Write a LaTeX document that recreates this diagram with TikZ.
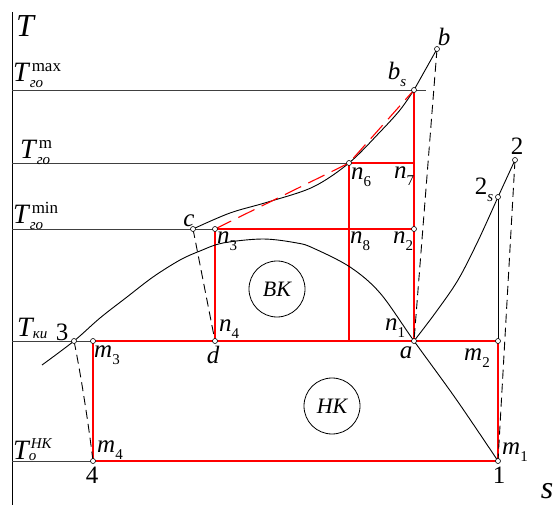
\documentclass[tikz,border=0pt]{standalone}
\usepackage{fontspec}
\setmainfont{Liberation Serif}
\newcommand{\Ls}[2]{{\itshape #1}\raisebox{-7pt}{\fontsize{15}{15}\selectfont #2}}
\newcommand{\Lsi}[2]{{\itshape #1}\raisebox{-7pt}{\fontsize{15}{15}\selectfont\itshape #2}}
\newcommand{\Ns}[2]{#1\raisebox{-7pt}{\fontsize{15}{15}\selectfont\itshape #2}}
\newcommand{\TSupSub}[2]{{\itshape T}\makebox[0pt][l]{\hspace{3pt}\raisebox{10pt}{\fontsize{17}{17}\selectfont #1}}\hspace{1pt}\raisebox{-6pt}{\fontsize{15}{15}\selectfont\itshape #2}}
\begin{document}
\begin{tikzpicture}[x=1pt,y=-1pt,
  axis/.style={line width=1pt},
  tline/.style={draw=black!75,line width=0.9pt},
  redl/.style={draw=red,line width=1.3pt},
  curve/.style={line width=0.9pt},
  dsh/.style={line width=0.9pt,dash pattern=on 9pt off 5pt},
  rdsh/.style={draw=red,line width=1.1pt,dash pattern=on 18pt off 8pt},
  pt/.style={circle,draw,fill=white,inner sep=0pt,minimum size=5pt,line width=0.6pt},
  lab/.style={inner sep=0pt,font=\fontsize{25}{25}\selectfont},
  tlab/.style={inner sep=0pt,anchor=base west,font=\fontsize{28}{28}\selectfont},
  zone/.style={circle,draw,line width=0.8pt,minimum size=56pt,inner sep=0pt,font=\fontsize{22}{22}\selectfont\itshape}]
\useasboundingbox (0,0) rectangle (560,505);
% key points
\coordinate (axTop) at (12,12);
\coordinate (axBot) at (12,505);
\coordinate (Lmax) at (12,90);
\coordinate (Lm) at (12,163);
\coordinate (Lmin) at (12,229);
\coordinate (Lki) at (12,341);
\coordinate (Lo) at (12,461);
\coordinate (maxEnd) at (426,90);
\coordinate (P3) at (74,341);
\coordinate (M3) at (93,341);
\coordinate (M4) at (93,461);
\coordinate (D) at (215,341);
\coordinate (N3) at (215,229);
\coordinate (C) at (193,229);
\coordinate (N6) at (349,163);
\coordinate (N6b) at (349,341);
\coordinate (N7) at (414,163);
\coordinate (N2) at (414,229);
\coordinate (A) at (414,341);
\coordinate (BS) at (414,90);
\coordinate (B) at (437,49);
\coordinate (S2) at (498,197);
\coordinate (P2) at (515,160);
\coordinate (M2) at (498,341);
\coordinate (M1) at (498,461);
\coordinate (DomeStart) at (42,365);
% axis
\draw[axis] (axTop) -- (axBot);
% temperature levels
\draw[tline] (Lmax) -- (maxEnd);
\draw[tline] (Lm) -- (N6);
\draw[tline] (Lmin) -- (N3);
\draw[tline] (Lki) -- (M3);
\draw[tline] (Lo) -- (M4);
% red cycle lines
\draw[redl] (N6) -- (N7);
\draw[redl] (N3) -- (N2);
\draw[redl] (M3) -- (M2);
\draw[redl] (M4) -- (M1);
\draw[redl] (M3) -- (M4);
\draw[redl] (N3) -- (D);
\draw[redl] (N6) -- (N6b);
\draw[redl] (BS) -- (A);
\draw[redl] (M2) -- (M1);
% black processes
\draw[curve] (S2) -- (M2);
\draw[curve] (S2) -- (P2);
\draw[curve] (BS) -- (B);
\draw[curve] plot[smooth,tension=0.55] coordinates {(DomeStart) (P3) (100,318) (127,297) (153,277) (180,260) (200,251) (223,243) (263,239) (297,243) (313,248) (350,267) (380,293) (A) (456,399) (M1)};
\draw[curve] plot[smooth,tension=0.55] coordinates {(A) (436,312) (458,280) (478,241) (S2)};
\draw[curve] plot[smooth,tension=0.55] coordinates {(C) (230,213) (268,202) (313,187) (N6) (380,132) (400,110) (BS)};
% dashed
\draw[rdsh] (N3) -- (N6) -- (BS);
\draw[dsh] (P3) .. controls (80,370) and (88,420) .. (M4);
\draw[dsh] (C) -- (D);
\draw[dsh] (B) -- (A);
\draw[dsh] (P2) -- (M1);
% zones
\node[zone] (VK) at (277,289) {ВК};
\node[zone] (NK) at (332,406) {НК};
% markers
\foreach \p in {P3,M3,M4,D,N3,C,N6,N2,A,BS,B,S2,P2,M2,M1}
  \node[pt] at (\p) {};
% labels
\node[inner sep=0pt,font=\fontsize{32}{32}\selectfont\itshape] (lT) at (25,26) {T};
\node[inner sep=0pt,font=\fontsize{32}{32}\selectfont\itshape] (lS) at (547,491) {s};
\node[tlab] (lTmax) at (13,82) {\TSupSub{max}{го}};
\node[tlab] (lTm) at (20,159) {\TSupSub{m}{го}};
\node[tlab] (lTmin) at (13,224) {\TSupSub{min}{го}};
\node[tlab] (lTki) at (17,336) {{\itshape T}\raisebox{-2pt}{\fontsize{15}{15}\selectfont\itshape ки}};
\node[tlab] (lTo) at (13,459) {{\itshape T}\makebox[0pt][l]{\hspace{2pt}\raisebox{11pt}{\fontsize{15}{15}\selectfont\itshape НК}}\raisebox{-1pt}{\fontsize{15}{15}\selectfont\itshape o}};
\node[lab] (l3) at (62,332) {3};
\node[lab] (l4) at (92,475) {4};
\node[lab] (l1) at (499,475) {1};
\node[lab] (l2) at (517,146) {2};
\node[lab] (l2s) at (484,190) {\Ns{2}{s}};
\node[lab] (lm3) at (107,355) {\Ls{m}{3}};
\node[lab] (lm4) at (110,450) {\Ls{m}{4}};
\node[lab] (lm1) at (515,452) {\Ls{m}{1}};
\node[lab] (lm2) at (477,358) {\Ls{m}{2}};
\node[lab,font=\fontsize{25}{25}\selectfont\itshape] (ld) at (213,355) {d};
\node[lab,font=\fontsize{25}{25}\selectfont\itshape] (la) at (406,353) {a};
\node[lab,font=\fontsize{25}{25}\selectfont\itshape] (lc) at (189,221) {c};
\node[lab,font=\fontsize{25}{25}\selectfont\itshape] (lb) at (444,37) {b};
\node[lab] (lbs) at (397,74) {\Lsi{b}{s}};
\node[lab] (ln1) at (395,328) {\Ls{n}{1}};
\node[lab] (ln2) at (403,241) {\Ls{n}{2}};
\node[lab] (ln3) at (227,241) {\Ls{n}{3}};
\node[lab] (ln4) at (229,329) {\Ls{n}{4}};
\node[lab] (ln6) at (361,177) {\Ls{n}{6}};
\node[lab] (ln7) at (404,176) {\Ls{n}{7}};
\node[lab] (ln8) at (360,241) {\Ls{n}{8}};
\end{tikzpicture}
\end{document}
